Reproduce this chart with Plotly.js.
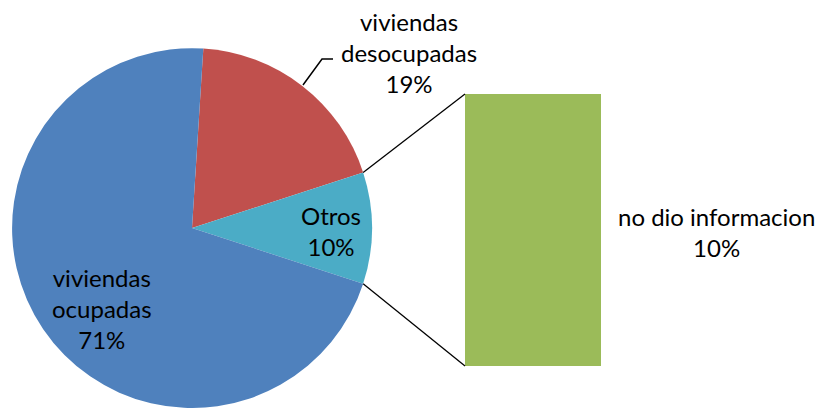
<!DOCTYPE html>
<html>
<head>
<meta charset="utf-8">
<script src="https://cdn.plot.ly/plotly-3.0.1.min.js"></script>
<style>
  html, body { margin: 0; padding: 0; background: #fff; }
  #chart { width: 825px; height: 408px; }
</style>
</head>
<body>
<div id="chart"></div>
<script>
// pie data (Excel "bar of pie")
var pieLabels = ['viviendas<br>desocupadas', 'Otros', 'viviendas<br>ocupadas'];
var pieValues = [19, 10, 71];
var pieColors = ['#C0504D', '#4BACC6', '#4F81BD'];

// bar breaking down "Otros"
var barLabels = ['no dio informacion'];
var barValues = [10];
var barColor = '#9BBB59';

var W = 825, H = 408;
var pieDomX = [0.0145, 0.451];
var pieDomY = [0, 0.882];
var rotation = 3.6;
var barDomX = [465 / W, 601 / W];
var barDomY = [1 - 366 / H, 1 - 94 / H];

var total = pieValues.reduce(function(a, b) { return a + b; }, 0);
function pct(v) { return Math.round(v / total * 100) + '%'; }

// pie geometry in pixels, to hook the connector lines to the "Otros" slice
var cx = W * (pieDomX[0] + pieDomX[1]) / 2;
var cy = H * (1 - (pieDomY[0] + pieDomY[1]) / 2);
var r = Math.min(W * (pieDomX[1] - pieDomX[0]), H * (pieDomY[1] - pieDomY[0])) / 2;
var a0 = rotation + 360 * pieValues[0] / total;
var a1 = a0 + 360 * pieValues[1] / total;
function edge(a) {
  var rad = a * Math.PI / 180;
  return [(cx + r * Math.sin(rad)) / W, 1 - (cy - r * Math.cos(rad)) / H];
}
var pTop = edge(a0), pBot = edge(a1);

var pieTrace = {
  type: 'pie',
  labels: pieLabels,
  values: pieValues,
  sort: false,
  direction: 'clockwise',
  rotation: rotation,
  marker: { colors: pieColors, line: { width: 0 } },
  textinfo: 'none',
  hoverinfo: 'label+percent',
  domain: { x: pieDomX, y: pieDomY },
  showlegend: false
};

var barTrace = {
  type: 'bar',
  x: [0],
  y: barValues,
  width: 1,
  marker: { color: barColor },
  hoverinfo: 'y',
  showlegend: false
};

var lbl = { family: 'Lato, sans-serif', size: 24, color: '#000' };

function note(px, py, text) {
  return { xref: 'paper', yref: 'paper', x: px / W, y: 1 - py / H,
    xanchor: 'center', yanchor: 'middle', showarrow: false, align: 'center',
    text: text, font: lbl };
}

var layout = {
  width: W,
  height: H,
  margin: { l: 0, r: 0, t: 0, b: 0 },
  paper_bgcolor: '#fff',
  plot_bgcolor: 'rgba(0,0,0,0)',
  xaxis: { domain: barDomX, range: [-0.5, 0.5], visible: false, fixedrange: true },
  yaxis: { domain: barDomY, range: [0, barValues[0]], visible: false, fixedrange: true },
  shapes: [
    { type: 'line', xref: 'paper', yref: 'paper', x0: pTop[0], y0: pTop[1], x1: barDomX[0], y1: barDomY[1],
      line: { color: '#000', width: 1.3 } },
    { type: 'line', xref: 'paper', yref: 'paper', x0: pBot[0], y0: pBot[1], x1: barDomX[0], y1: barDomY[0],
      line: { color: '#000', width: 1.3 } },
    { type: 'path', xref: 'paper', yref: 'paper',
      path: 'M ' + 303 / W + ' ' + (1 - 85 / H) + ' L ' + 322 / W + ' ' + (1 - 59 / H) + ' L ' + 333 / W + ' ' + (1 - 59 / H),
      line: { color: '#000', width: 1.5 } }
  ],
  annotations: [
    note(409, 53, pieLabels[0] + '<br>' + pct(pieValues[0])),
    note(331, 231, pieLabels[1] + '<br>' + pct(pieValues[1])),
    note(102, 308, pieLabels[2] + '<br>' + pct(pieValues[2])),
    note(716, 232, barLabels[0] + '<br>' + pct(barValues[0]))
  ]
};

Plotly.newPlot('chart', [pieTrace, barTrace], layout, { displayModeBar: false, staticPlot: true });
</script>
</body>
</html>
